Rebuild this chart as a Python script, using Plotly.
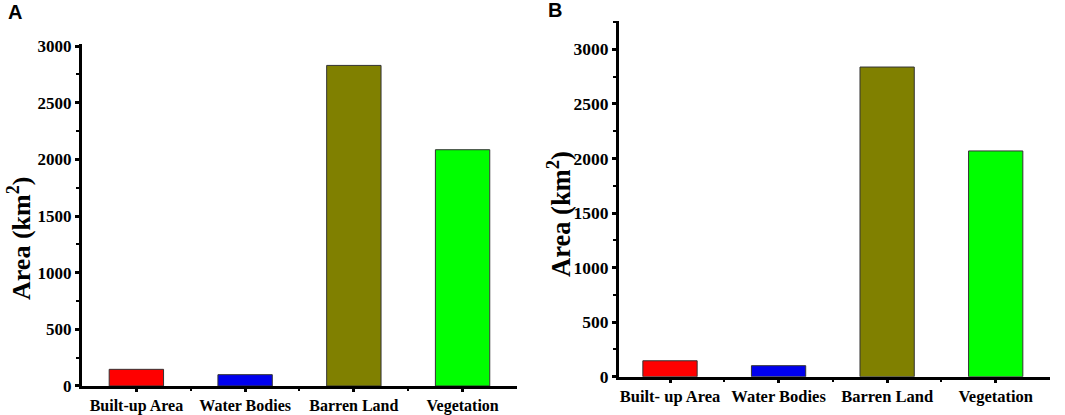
import plotly.graph_objects as go
from plotly.subplots import make_subplots

# Land cover areas (km²) for the two panels
CATEGORIES_A = ["Built-up Area", "Water Bodies", "Barren Land", "Vegetation"]
CATEGORIES_B = ["Built- up Area", "Water Bodies", "Barren Land", "Vegetation"]
AREA_A = [147, 100, 2829, 2085]
AREA_B = [146, 101, 2838, 2069]
BAR_COLORS = ["#ff0000", "#0000ee", "#808000", "#00ff00"]

SERIF = "Liberation Serif, Times New Roman, serif"
SANS = "Liberation Sans, Arial, sans-serif"
W, H = 1065, 415


def axis_style(size, ticklen=4):
    return dict(
        showline=True, linecolor="black", linewidth=3,
        ticks="outside", ticklen=ticklen, tickwidth=3, tickcolor="black",
        showgrid=False, zeroline=False, automargin=False,
        tickfont=dict(family=SERIF, size=size, color="black", weight="bold"),
    )


fig = make_subplots(rows=1, cols=2)

# col, categories, values, x domain, y domain, x range, y max, x/y tick sizes
panels = [
    (1, CATEGORIES_A, AREA_A, [0.0770, 0.4854], [0.0699, 0.8940], [-0.5, 3.5], 3018, 16, 17),
    (2, CATEGORIES_B, AREA_B, [0.5812, 0.9859], [0.0923, 0.9494], [-0.47, 3.5], 3260, 16.5, 17.5),
]

for col, cats, vals, xdom, ydom, xr, ymax, xsize, ysize in panels:
    xpos = list(range(len(cats)))
    fig.add_trace(go.Bar(
        x=xpos, y=vals, width=0.5,
        marker=dict(color=BAR_COLORS, line=dict(color="#333333", width=1)),
        showlegend=False,
    ), row=1, col=col)

    xa = axis_style(xsize, ticklen=3)
    xa.update(domain=xdom, range=xr, tickmode="array", tickvals=xpos, ticktext=cats,
              minor=dict(tickmode="array", tickvals=[p + 0.5 for p in xpos[:-1]],
                         ticks="outside", ticklen=2, tickwidth=2, tickcolor="black"))
    fig.update_xaxes(**xa, row=1, col=col)

    ya = axis_style(ysize)
    ya.update(domain=ydom, range=[0, ymax], tickmode="linear", tick0=0, dtick=500,
              minor=dict(dtick=250, ticks="outside", ticklen=3, tickwidth=2, tickcolor="black"))
    fig.update_yaxes(**ya, row=1, col=col)

# y-axis titles (rotated annotations, to match their offset along the axis)
for x, y, size in [(19 / W, 1 - 239 / H, 26), (559 / W, 1 - 214 / H, 26.5)]:
    fig.add_annotation(x=x, y=y, xref="paper", yref="paper", text="Area (km<sup>2</sup>)",
                       textangle=-90, showarrow=False, xanchor="center", yanchor="middle",
                       font=dict(family=SERIF, size=size, color="black", weight="bold"))

# panel letters
for x, y, letter in [(6 / W, 1.002, "A"), (546 / W, 1.008, "B")]:
    fig.add_annotation(x=x, y=y, xref="paper", yref="paper", text=letter, showarrow=False,
                       xanchor="left", yanchor="top",
                       font=dict(family=SANS, size=20, color="black", weight="bold"))

fig.update_layout(
    width=W, height=H,
    margin=dict(l=0, r=0, t=0, b=0),
    paper_bgcolor="white", plot_bgcolor="white",
)

# the page body has a default 8px margin; drop it so the figure fills the window
fig.write_html("out.html", config={"displayModeBar": False},
               post_script="document.body.style.margin = '0';")
